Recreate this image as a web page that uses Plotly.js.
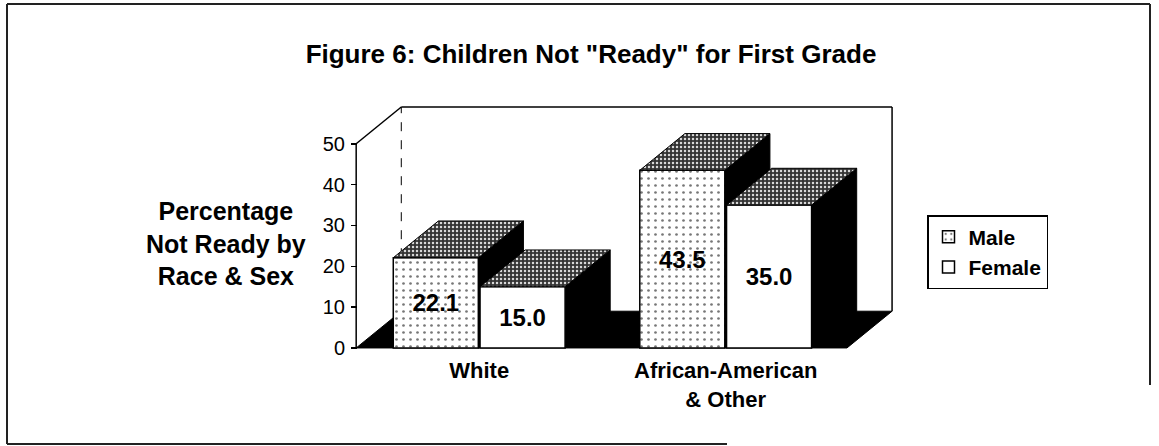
<!DOCTYPE html>
<html><head><meta charset="utf-8">
<script src="https://cdn.plot.ly/plotly-3.0.1.min.js"></script>
<style>html,body{margin:0;padding:0;background:#fff}#chart{width:1159px;height:446px}</style>
</head><body><div id="chart"></div>
<script>
// ---- data ----
const categories = ['White', 'African-American<br>& Other'];
const seriesNames = ['Male', 'Female'];
const maleValues = [22.1, 43.5];
const femaleValues = [15.0, 35.0];
const yTickValues = [0, 10, 20, 30, 40, 50];
const chartTitle = 'Figure 6: Children Not "Ready" for First Grade';
const yLabel = 'Percentage<br>Not Ready by<br>Race & Sex';

// ---- style / geometry constants ----
const FONT = 'Liberation Sans, Arial, Helvetica, sans-serif';
const groupPos = categories.map((c, i) => i);
const barWidth = 0.345;
const barOffsets = [-0.3485, 0.0035];
const DX = 0.183, DY = 9;          // 3-D depth in data units
const XMIN = -0.499, XMAX = 1.675; // floor extent
const YTOP = 50;
const XR = [-0.52, 1.695], YR = [-0.5, 59.5];
const L = 351, PW = 546, T = 105, PH = 245;
const px2x = p => (p - L) / PW;
const py2y = p => (T + PH - p) / PH;

const series = [
  {name: seriesNames[0], values: maleValues,
   pattern: {shape: '.', bgcolor: '#ffffff', fgcolor: '#777777', size: 7, solidity: 0.12}},
  {name: seriesNames[1], values: femaleValues,
   pattern: {shape: '', bgcolor: '#ffffff'}}
];

const barTraces = [];
const topTraces = [];
const shapes = [];

// floor
shapes.push({type: 'path', xref: 'x', yref: 'y', layer: 'below',
  path: `M ${XMIN},0 L ${XMAX - DX},0 L ${XMAX},${DY} L ${XMIN + DX},${DY} Z`,
  fillcolor: '#000', line: {color: '#000', width: 1}});
// back wall lines + y axis line
const lineShape = (x0, y0, x1, y1, w, dash) => ({type: 'line', xref: 'x', yref: 'y', layer: 'below',
  x0, y0, x1, y1, line: {color: '#000', width: w, dash: dash || 'solid'}});
shapes.push(lineShape(XMIN + DX, DY, XMIN + DX, YTOP + DY, 1, 'dash'));
shapes.push(lineShape(XMIN + DX, YTOP + DY, XMAX, YTOP + DY, 1.5));
shapes.push(lineShape(XMAX, YTOP + DY, XMAX, DY, 1.5));
shapes.push(lineShape(XMIN, YTOP, XMIN + DX, YTOP + DY, 1.5));
shapes.push(lineShape(XMIN, 0, XMIN, YTOP, 1.5));

// sides (below bars) and tops (scatter, above bars)
groupPos.forEach((g, i) => {
  series.forEach((s, j) => {
    const h = s.values[i];
    const x0 = g + barOffsets[j], x1 = x0 + barWidth;
    shapes.push({type: 'path', xref: 'x', yref: 'y', layer: 'below',
      path: `M ${x1},0 L ${x1},${h} L ${x1 + DX},${h + DY} L ${x1 + DX},${DY} Z`,
      fillcolor: '#000', line: {color: '#000', width: 1}});
    topTraces.push({type: 'scatter', mode: 'lines', showlegend: false, hoverinfo: 'skip',
      x: [x0, x1, x1 + DX, x0 + DX, x0], y: [h, h, h + DY, h + DY, h],
      fill: 'toself', fillcolor: '#3a3a3a',
      fillpattern: {shape: '.', bgcolor: '#333333', fgcolor: '#d8d8d8', size: 4, solidity: 0.3},
      line: {color: '#000', width: 1}});
  });
});

// front faces as bars
series.forEach((s, j) => {
  barTraces.push({type: 'bar', name: s.name, x: groupPos, y: s.values,
    width: barWidth, offset: barOffsets[j],
    text: s.values.map(v => v.toFixed(1)), textposition: 'inside', insidetextanchor: 'middle',
    textangle: 0, constraintext: 'none',
    textfont: {family: FONT, size: 24, color: '#000', weight: 'bold'},
    marker: {color: '#ffffff', line: {color: '#000', width: 1.5}, pattern: s.pattern},
    hoverinfo: 'x+y'});
});

// outer frame (paper coordinates)
const frameLine = (a, b, c, d) => ({type: 'line', xref: 'paper', yref: 'paper',
  x0: px2x(a), y0: py2y(b), x1: px2x(c), y1: py2y(d), line: {color: '#222', width: 2}});
shapes.push(frameLine(7, 4, 1150, 4));
shapes.push(frameLine(7, 4, 7, 444));
shapes.push(frameLine(7, 444, 727, 444));
shapes.push(frameLine(1150, 4, 1150, 385));

const layout = {
  width: 1159, height: 446,
  margin: {l: L, r: 1159 - L - PW, t: T, b: 446 - T - PH},
  paper_bgcolor: '#fff', plot_bgcolor: 'rgba(0,0,0,0)',
  barmode: 'overlay',
  font: {family: FONT, color: '#000'},
  title: {text: chartTitle, font: {family: FONT, size: 26, weight: 'bold', color: '#000'},
    xref: 'container', yref: 'container', x: 591 / 1159, xanchor: 'center',
    y: 1 - 54 / 446, yanchor: 'middle'},
  xaxis: {range: XR, tickvals: groupPos, ticktext: categories, ticks: '',
    showgrid: false, zeroline: false, showline: false, ticklabelstandoff: 5,
    tickfont: {family: FONT, size: 22, weight: 'bold', color: '#000'}},
  yaxis: {range: YR, tickvals: yTickValues, ticks: 'inside', ticklen: 6, tickwidth: 1.5,
    tickcolor: '#000', showgrid: false, zeroline: false, showline: false, ticklabelstandoff: 5,
    tickfont: {family: FONT, size: 20, color: '#000'}},
  legend: {x: px2x(927), y: py2y(215), xanchor: 'left', yanchor: 'top',
    bordercolor: '#000', borderwidth: 1.5, bgcolor: '#fff', traceorder: 'normal',
    font: {family: FONT, size: 21, weight: 'bold', color: '#000'}},
  annotations: [{text: yLabel, xref: 'paper', yref: 'paper', x: px2x(226), y: py2y(244),
    xanchor: 'center', yanchor: 'middle', showarrow: false, align: 'center',
    font: {family: FONT, size: 25, weight: 'bold', color: '#000'}}],
  shapes: shapes
};

Plotly.newPlot('chart', barTraces.concat(topTraces), layout, {displayModeBar: false, staticPlot: true});
</script></body></html>
